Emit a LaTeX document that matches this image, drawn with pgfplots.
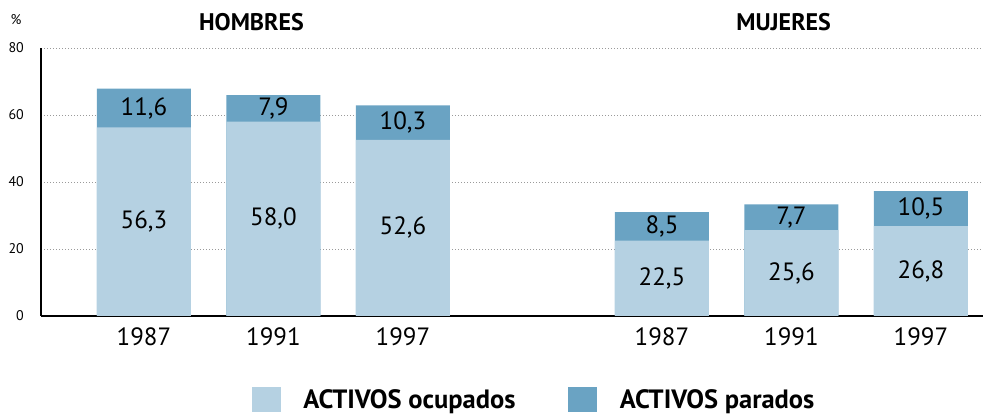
\documentclass[border=0pt]{standalone}
\usepackage{fontspec}
\setmainfont{PT Sans}
\usepackage{pgfplots}
\pgfplotsset{compat=1.18}
\usepackage{pgfplotstable}
\definecolor{ocup}{HTML}{B5D1E2}
\definecolor{parad}{HTML}{6AA3C3}
\definecolor{gridc}{HTML}{9A9A9A}

\pgfplotstableread{
x occ par
0 56.3 11.6
1 58.0 7.9
2 52.6 10.3
4 22.5 8.5
5 25.6 7.7
6 26.8 10.5
}\datos

\begin{document}
\begin{tikzpicture}[x=1pt,y=1pt]
\useasboundingbox (-41,-99) rectangle (942,316);
\begin{axis}[
  at={(0,0)}, anchor=south west,
  scale only axis, width=942pt, height=268pt,
  xmin=-0.795, xmax=6.479, ymin=0, ymax=80,
  axis x line=bottom, axis y line=left,
  axis line style={-, line width=1.4pt, black},
  xtick={0,1,2,4,5,6},
  xticklabels={1987,1991,1997,1987,1991,1997},
  ytick={0,20,40,60,80},
  major tick length=0pt,
  ymajorgrids,
  grid style={line width=1pt, dotted, gridc},
  /pgf/number format/assume math mode=true,
  xticklabel style={font=\fontsize{25}{25}\selectfont, inner sep=0pt, yshift=-11pt},
  yticklabel style={font=\fontsize{14}{14}\selectfont, inner sep=0pt, xshift=-17pt},
  clip=false,
  legend columns=2,
  legend style={at={(0.224,-0.31)}, anchor=west, draw=none, fill=none,
    inner sep=0pt, outer sep=0pt,
    font=\bfseries\fontsize{26.5}{26.5}\selectfont,
    nodes={inner sep=0pt},
    /tikz/every odd column/.append style={column sep=23pt},
    /tikz/every even column/.append style={column sep=53pt}},
  legend cell align=left,
]
\addlegendimage{legend image code/.code={\fill[ocup] (0pt,-11pt) rectangle (28pt,13pt);}}
\addlegendentry{ACTIVOS ocupados}
\addlegendimage{legend image code/.code={\fill[parad] (0pt,-11pt) rectangle (28pt,13pt);}}
\addlegendentry{ACTIVOS parados}

\addplot[ybar, bar width=94pt, bar shift=0pt, fill=parad, draw=none, forget plot]
  table[x=x, y expr=\thisrow{occ}+\thisrow{par}] {\datos};
\addplot[ybar, bar width=94pt, bar shift=0pt, fill=ocup, draw=none, forget plot]
  table[x=x, y=occ] {\datos};

\addplot[draw=none, mark=none, forget plot, point meta=explicit,
  nodes near coords={\pgfmathprintnumber[fixed,fixed zerofill,precision=1,use comma,assume math mode=true]{\pgfplotspointmeta}},
  every node near coord/.append style={anchor=center, text=black, inner sep=0pt, font=\fontsize{25}{25}\selectfont}]
  table[x=x, y expr=\thisrow{occ}/2, meta=occ] {\datos};
\addplot[draw=none, mark=none, forget plot, point meta=explicit,
  nodes near coords={\pgfmathprintnumber[fixed,fixed zerofill,precision=1,use comma,assume math mode=true]{\pgfplotspointmeta}},
  every node near coord/.append style={anchor=center, text=black, inner sep=0pt, font=\fontsize{25}{25}\selectfont}]
  table[x=x, y expr=\thisrow{occ}+\thisrow{par}/2, meta=par] {\datos};

\node[font=\bfseries\fontsize{24}{24}\selectfont] at (axis cs:0.83,87.8) {HOMBRES};
\node[font=\bfseries\fontsize{24}{24}\selectfont] at (axis cs:4.94,87.8) {MUJERES};
\end{axis}
\node[font=\fontsize{14}{14}\selectfont] at (-25,296) {\%};
\end{tikzpicture}
\end{document}
